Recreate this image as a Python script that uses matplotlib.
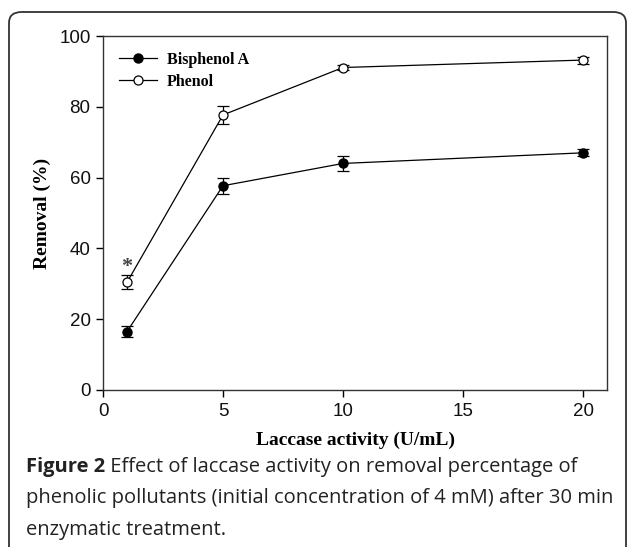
import matplotlib
matplotlib.use("Agg")
import matplotlib.pyplot as plt
from matplotlib.patches import FancyBboxPatch
from matplotlib.lines import Line2D

# data
activity = [1, 5, 10, 20]
bpa = [16.5, 57.7, 64.0, 67.0]
bpa_err = [1.5, 2.3, 2.2, 1.0]
phenol = [30.4, 77.7, 91.1, 93.2]
phenol_err = [2.0, 2.5, 0.8, 1.0]

caption_bold = "Figure 2"
caption_lines = [
    " Effect of laccase activity on removal percentage of",
    "phenolic pollutants (initial concentration of 4 mM) after 30 min",
    "enzymatic treatment.",
]

W, H = 629, 547
fig = plt.figure(figsize=(W / 100, H / 100), dpi=100)

# rounded frame around figure + caption
frame = FancyBboxPatch((9 / W, -0.05), 617 / W, 1 - 12 / H + 0.05,
                       boxstyle="round,pad=0,rounding_size=0.02",
                       transform=fig.transFigure, fill=False,
                       edgecolor="#333333", linewidth=1.3)
fig.patches.append(frame)

ax = fig.add_axes([103 / W, 1 - 390 / H, 504 / W, 354 / H])

ax.errorbar(activity, bpa, yerr=bpa_err, color="black", marker="o",
            markersize=6.5, mfc="black", mec="black", lw=0.9, capsize=4,
            elinewidth=0.9, capthick=0.9)
ax.errorbar(activity, phenol, yerr=phenol_err, color="black", marker="o",
            markersize=6.5, mfc="white", mec="black", mew=0.9, lw=0.9,
            capsize=4, elinewidth=0.9, capthick=0.9)

ax.text(1, 34.8, "*", ha="center", va="center", fontsize=16,
        family="Liberation Serif", fontweight="bold", color="#444444")

ax.set_xlim(0, 21)
ax.set_ylim(0, 100)
ax.set_xticks([0, 5, 10, 15, 20])
ax.set_yticks([0, 20, 40, 60, 80, 100])
ax.tick_params(direction="out", length=5, width=1, top=False, right=False,
               labelsize=13.5, pad=4)
for lab in ax.get_xticklabels() + ax.get_yticklabels():
    lab.set_family("Liberation Sans")
    lab.set_color("#111111")
for sp in ax.spines.values():
    sp.set_linewidth(1)
    sp.set_color("#333333")

ax.set_xlabel("Laccase activity (U/mL)", family="Liberation Serif",
              fontweight="bold", fontsize=14, labelpad=9)
ax.set_ylabel("Removal (%)", family="Liberation Serif",
              fontweight="bold", fontsize=14, labelpad=6)

handles = [
    Line2D([], [], color="black", lw=0.9, marker="o", markersize=6.5,
           mfc="black", mec="black"),
    Line2D([], [], color="black", lw=0.9, marker="o", markersize=6.5,
           mfc="white", mec="black", mew=0.9),
]
ax.legend(handles, ["Bisphenol A", "Phenol"], loc="upper left", frameon=False,
          handlelength=2.4, handletextpad=0.6, borderaxespad=0.6,
          labelspacing=0.35,
          prop={"family": "Liberation Serif", "weight": "bold", "size": 11.5})

# caption
cap_x = 26 / W
y0 = 1 - 467 / H
dy = 31.5 / H
t = fig.text(cap_x, y0, caption_bold, fontsize=14.5, fontweight="bold",
             family="Open Sans", va="center", color="#222222")
fig.canvas.draw()
bb = t.get_window_extent(fig.canvas.get_renderer())
x_after = bb.x1 / fig.bbox.width
fig.text(x_after, y0, caption_lines[0], fontsize=14.5, family="Open Sans",
         va="center", color="#222222")
for i, line in enumerate(caption_lines[1:], start=1):
    fig.text(cap_x, y0 - i * dy, line, fontsize=14.5, family="Open Sans",
             va="center", color="#222222")

fig.savefig("out.png", dpi=100)
